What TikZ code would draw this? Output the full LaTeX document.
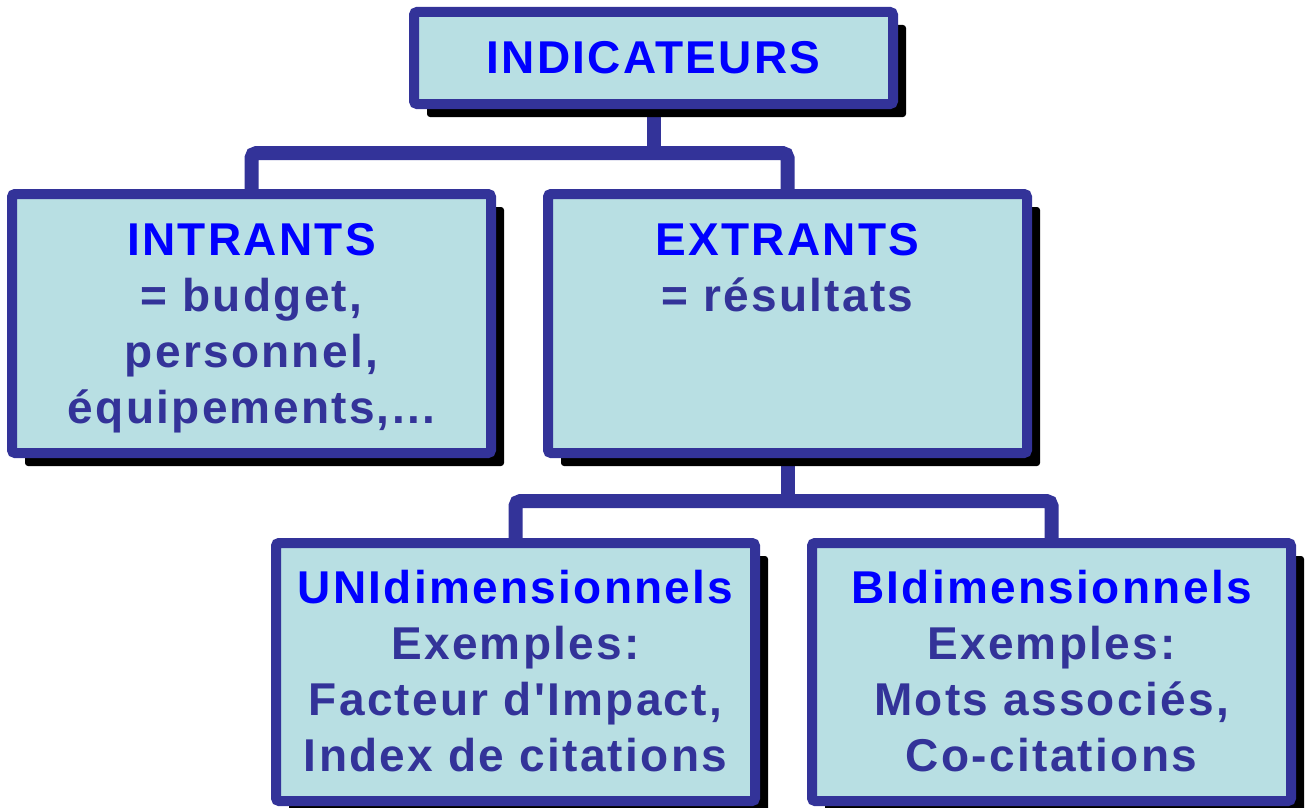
\documentclass[tikz,border=0pt]{standalone}
\usepackage{fontspec}
\setmainfont{Liberation Sans}[LetterSpace=5, Ligatures=TeXOff]
\usetikzlibrary{shadows}
\definecolor{boxfill}{HTML}{B8DFE3}
\definecolor{bord}{HTML}{333399}
\definecolor{titc}{HTML}{0000FF}
\newcommand{\ttl}[1]{\textcolor{titc}{#1}}
\tikzset{
  box/.style={draw=bord, line width=10pt, fill=boxfill, rounded corners=3pt,
    inner sep=0pt, minimum width=479pt, text=bord,
    font=\bfseries\fontsize{46pt}{56pt}\selectfont,
    drop shadow={shadow xshift=13pt, shadow yshift=-13pt, opacity=1, fill=black}},
  conn/.style={draw=bord, line width=14pt, rounded corners=5pt}
}
\begin{document}
\begin{tikzpicture}[x=1pt,y=-1pt]
\useasboundingbox (0,0) rectangle (1306,808);
% connectors
\coordinate (busA) at (653.5,153);
\coordinate (busB) at (787.5,501);
\draw[conn] (251.5,189) |- (busA) -| (787.5,189);
\draw[conn] (653.5,109) -- (busA);
\draw[conn] (515.5,538) |- (busB) -| (1051.5,538);
\draw[conn] (787.5,458) -- (busB);
% boxes
\node[box, minimum height=92pt] (ind) at (653.5,58) {\ttl{INDICATEURS}};
\node[box, minimum height=259pt] (intr) at (251.5,323.5)
  {\parbox[c][259pt][t]{470pt}{\centering\rule{0pt}{61pt}\ttl{INTRANTS}\\= budget,\\personnel,\\équipements,...}};
\node[box, minimum height=259pt] (extr) at (787.5,323.5)
  {\parbox[c][259pt][t]{470pt}{\centering\rule{0pt}{61pt}\ttl{EXTRANTS}\\= résultats}};
\node[box, minimum height=258pt] (uni) at (515.5,672)
  {\parbox[c][258pt][t]{470pt}{\centering\rule{0pt}{60pt}\ttl{UNIdimensionnels}\\Exemples:\\Facteur d'Impact,\\Index de citations}};
\node[box, minimum height=258pt] (bi) at (1051.5,672)
  {\parbox[c][258pt][t]{470pt}{\centering\rule{0pt}{60pt}\ttl{BIdimensionnels}\\Exemples:\\Mots associés,\\Co-citations}};
\end{tikzpicture}
\end{document}
